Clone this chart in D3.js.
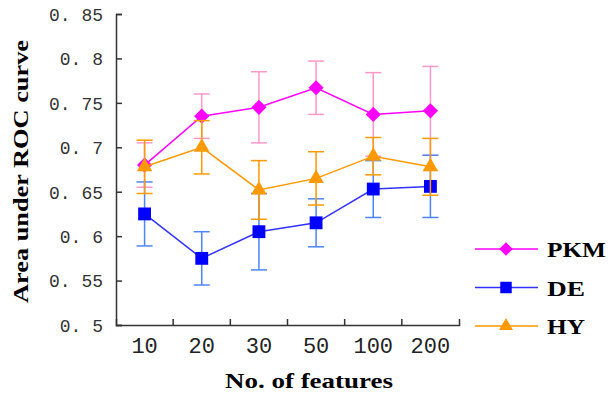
<!DOCTYPE html>
<html lang="en">
<head>
<meta charset="UTF-8">
<title>AUC</title>
<script src="https://cdn.jsdelivr.net/npm/d3@7"></script>
<style>
  body { margin: 0; background: #fff; }
</style>
</head>
<body>
<svg width="611" height="394"></svg>
<script>
    // data
    var features = ['10', '20', '30', '50', '100', '200'];
    var yTicks = [0.5, 0.55, 0.6, 0.65, 0.7, 0.75, 0.8, 0.85];

    var pkm = [0.680, 0.735, 0.745, 0.767, 0.737, 0.741];
    var pkmErr = [0.025, 0.025, 0.040, 0.030, 0.047, 0.050];
    var de = [0.625, 0.575, 0.605, 0.615, 0.653, 0.656];
    var deErr = [0.036, 0.030, 0.043, 0.027, 0.032, 0.035];
    var hy = [0.678, 0.700, 0.652, 0.665, 0.690, 0.678];
    var hyErr = [0.030, 0.030, 0.033, 0.030, 0.021, 0.032];

    // diamond = square turned 45 degrees
    var series = [
        {name: 'PKM', values: pkm, err: pkmErr, line: '#ff00ff', bar: '#ff99cc', fill: '#ff00ff', shape: d3.symbolSquare, size: 115, rot: 45, w: 59},
        {name: 'DE', values: de, err: deErr, line: '#3333ff', bar: '#4d85ff', fill: '#0000ff', shape: d3.symbolSquare, size: 165, rot: 0, w: 38},
        {name: 'HY', values: hy, err: hyErr, line: '#ff9900', bar: '#ff9900', fill: '#ff9900', shape: d3.symbolTriangle, size: 105, rot: 0, w: 38}
    ];

    var svg = d3.select('svg');
    var pLeft = 116, pRight = 459, pTop = 14, pBottom = 325;

    var x = d3.scaleBand().domain(features).range([pLeft, pRight]);
    var y = d3.scaleLinear().domain([0.5, 0.85]).range([pBottom, pTop]);

    // axes
    var yAxis = svg.append('g')
        .attr('transform', 'translate(' + pLeft + ',0)')
        .call(d3.axisLeft(y).tickValues(yTicks).tickSizeInner(-6).tickSizeOuter(-6)
            .tickFormat(function(d){ return d3.format('')(d).replace('.', '. '); }));
    var xAxis = svg.append('g')
        .attr('transform', 'translate(0,' + pBottom + ')')
        .call(d3.axisBottom(x).tickSizeInner(0).tickSizeOuter(-6));

    svg.selectAll('.domain').attr('stroke', '#333').attr('stroke-width', 1.5);
    yAxis.selectAll('.tick line').attr('stroke', '#333').attr('stroke-width', 1.5);
    yAxis.selectAll('.tick text')
        .attr('x', -13)
        .attr('dy', '0.35em')
        .style('font-family', '"Liberation Mono", monospace')
        .style('font-size', '18px')
        .attr('fill', '#333');

    // x ticks between categories
    xAxis.selectAll('.sep')
        .data(features.slice(1))
        .enter().append('line')
        .attr('x1', function(d){ return x(d); })
        .attr('x2', function(d){ return x(d); })
        .attr('y1', 0).attr('y2', -6)
        .attr('stroke', '#333').attr('stroke-width', 1.5);
    xAxis.selectAll('.tick text')
        .attr('y', 12)
        .style('font-family', '"Liberation Mono", monospace')
        .style('font-size', '22px')
        .attr('fill', '#222');

    // axis titles
    svg.append('text')
        .attr('x', 225).attr('y', 388)
        .attr('textLength', 168).attr('lengthAdjust', 'spacingAndGlyphs')
        .style('font-family', '"Liberation Serif", serif')
        .style('font-weight', 'bold')
        .style('font-size', '22px')
        .text('No. of features');
    svg.append('text')
        .attr('transform', 'translate(28,303) rotate(-90)')
        .attr('textLength', 263).attr('lengthAdjust', 'spacingAndGlyphs')
        .style('font-family', '"Liberation Serif", serif')
        .style('font-weight', 'bold')
        .style('font-size', '22px')
        .text('Area under ROC curve');

    var cx = function(i){ return x(features[i]) + x.bandwidth() / 2; };
    var line = d3.line()
        .x(function(d, i){ return cx(i); })
        .y(function(d){ return y(d); });

    series.forEach(function(s){
        var g = svg.append('g');
        // error bars
        s.values.forEach(function(v, i){
            var lo = y(v - s.err[i]), hi = y(v + s.err[i]);
            g.append('line').attr('x1', cx(i)).attr('x2', cx(i)).attr('y1', lo).attr('y2', hi)
                .attr('stroke', s.bar).attr('stroke-width', 1.5);
            [lo, hi].forEach(function(yy){
                g.append('line').attr('x1', cx(i) - 8).attr('x2', cx(i) + 8).attr('y1', yy).attr('y2', yy)
                    .attr('stroke', s.bar).attr('stroke-width', 1.5);
            });
        });
        g.append('path')
            .datum(s.values)
            .attr('d', line)
            .attr('fill', 'none')
            .attr('stroke', s.line)
            .attr('stroke-width', 1.5);
        g.selectAll('.pt')
            .data(s.values)
            .enter().append('path')
            .attr('transform', function(d, i){ return 'translate(' + cx(i) + ',' + y(d) + ') rotate(' + s.rot + ')'; })
            .attr('d', d3.symbol().type(s.shape).size(s.size))
            .attr('fill', s.fill);
    });

    // legend
    var legend = svg.append('g');
    series.forEach(function(s, i){
        var ly = 249 + i * 38.5;
        legend.append('line').attr('x1', 475).attr('x2', 538).attr('y1', ly).attr('y2', ly)
            .attr('stroke', s.line).attr('stroke-width', 1.5);
        legend.append('path')
            .attr('transform', 'translate(506,' + ly + ') rotate(' + s.rot + ')')
            .attr('d', d3.symbol().type(s.shape).size(s.size * 0.8))
            .attr('fill', s.fill);
        legend.append('text')
            .attr('x', 547).attr('y', ly + 8)
            .attr('textLength', s.w).attr('lengthAdjust', 'spacingAndGlyphs')
            .style('font-family', '"Liberation Serif", serif')
            .style('font-weight', 'bold')
            .style('font-size', '22px')
            .text(s.name);
    });
</script>
</body>
</html>
